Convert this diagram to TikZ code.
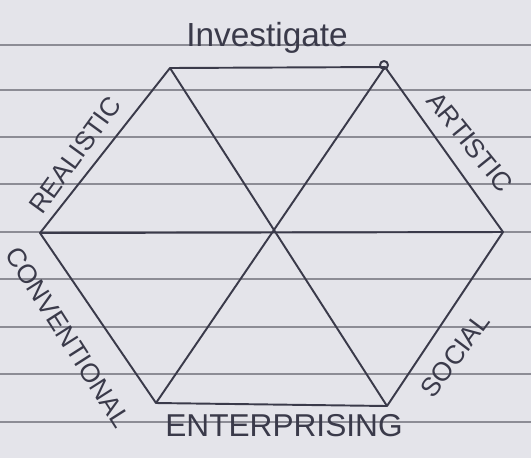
\documentclass[tikz,border=0pt]{standalone}
\usepackage{fontspec}
\setsansfont{Liberation Sans}
\usetikzlibrary{calc}
\definecolor{penna}{HTML}{3A3A4A}
\definecolor{foglio}{HTML}{E4E4EA}
\definecolor{riga}{HTML}{8C8C95}
\begin{document}
\begin{tikzpicture}[x=0.02cm,y=-0.02cm,
    lato/.style={penna, line width=1.1pt, line join=round},
    etichetta/.style={penna, font=\sffamily\fontsize{15}{17}\selectfont, inner sep=0pt}]
        %foglio a righe
        \fill[foglio] (0,0) rectangle (531,458);
        \useasboundingbox (0,0) rectangle (531,458);
        \foreach \y in {45,90,137,184,232,279,327,374,422}
            \draw[riga, line width=0.6pt] (0,\y) -- (531,\y);
        %vertici dell'esagono
        \coordinate (A) at (170,68);
        \coordinate (B) at (385,67);
        \coordinate (C) at (503,232);
        \coordinate (D) at (387,406);
        \coordinate (E) at (156,403);
        \coordinate (F) at (40,233);
        %disegno esagono e diagonali
        \draw[lato] (A) -- (B) -- (C) -- (D) -- (E) -- (F) -- cycle;
        \draw[lato] (A) -- (D);
        \draw[lato] (B) -- (E);
        \draw[lato] (F) -- (C);
        \draw[lato] (384,65) circle (4);
        %etichette
        \node[etichetta, font=\sffamily\fontsize{19}{21}\selectfont] (inv) at (267,38) {Investigate};
        \node[etichetta, rotate=54] (real) at (75,155) {REALISTIC};
        \node[etichetta, rotate=-51] (art) at (470,142) {ARTISTIC};
        \node[etichetta, rotate=-57.5] (conv) at (68,337) {CONVENTIONAL};
        \node[etichetta, rotate=53] (soc) at (455,355) {SOCIAL};
        \node[etichetta, font=\sffamily\fontsize{18}{20}\selectfont] (ent) at (284,426) {ENTERPRISING};
\end{tikzpicture}
\end{document}
